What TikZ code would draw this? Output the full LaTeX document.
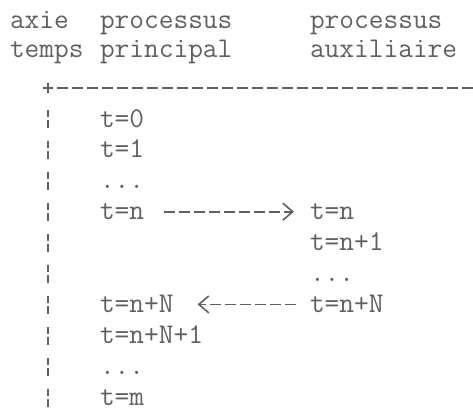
\documentclass[tikz,border=0pt]{standalone}
\usepackage{fontspec}
\usetikzlibrary{arrows.meta}
\definecolor{ink}{HTML}{606060}
\begin{document}
\begin{tikzpicture}[x=1pt,y=-1pt,
  txt/.style={anchor=base west, inner sep=0pt, outer sep=0pt,
    font=\ttfamily\fontsize{28.57}{28.57}\selectfont, text=ink},
  rule/.style={draw=ink, line width=1.6pt},
  hdash/.style={rule, dash pattern=on 11pt off 4pt},
  vdash/.style={rule, dash pattern=on 7pt off 3pt on 8pt off 13pt},
  flow/.style={hdash, -{Straight Barb[length=10pt,width=17pt,line width=1.6pt]}},
]
\useasboundingbox (0,0) rectangle (473,412);

% column headings
\node[txt] (axie)  at (10,29)  {axie};
\node[txt] (procA) at (100,29) {processus};
\node[txt] (procB) at (310,29) {processus};
\node[txt] (temps) at (10,57)  {temps};
\node[txt] (princ) at (100,57) {principal};
\node[txt] (aux)   at (310,57) {auxiliaire};

% time axis
\coordinate (origin) at (48,88);
\coordinate (xend)   at (473,88);
\coordinate (ytop)   at (48,110);
\coordinate (yend)   at (48,412);
\draw[rule] ([xshift=-5pt]origin) -- ([xshift=5pt]origin);
\draw[rule] ([yshift=-5pt]origin) -- ([yshift=5pt]origin);
\draw[hdash] ([xshift=9pt]origin) -- (xend);
\draw[vdash] (ytop) -- (yend);

% main process
\node[txt] (t0)   at (100,127.0) {t=0};
\node[txt] (t1)   at (100,157.9) {t=1};
\node[txt] (d1)   at (100,188.8) {...};
\node[txt] (tn)   at (100,219.7) {t=n};
\node[txt] (tnN)  at (100,312.4) {t=n+N};
\node[txt] (tnN1) at (100,343.3) {t=n+N+1};
\node[txt] (d2)   at (100,374.2) {...};
\node[txt] (tm)   at (100,405.1) {t=m};

% auxiliary process
\node[txt] (rn)   at (310,219.7) {t=n};
\node[txt] (rn1)  at (310,250.6) {t=n+1};
\node[txt] (rd)   at (310,281.5) {...};
\node[txt] (rnN)  at (310,312.4) {t=n+N};

% hand-over and return
\draw[flow] ([shift={(20,-8)}]tn.base east) -- ([shift={(-16,-8)}]rn.base west);
\draw[flow] ([shift={(-14,-8)}]rnN.base west) -- ([shift={(24,-8)}]tnN.base east);
\end{tikzpicture}
\end{document}
